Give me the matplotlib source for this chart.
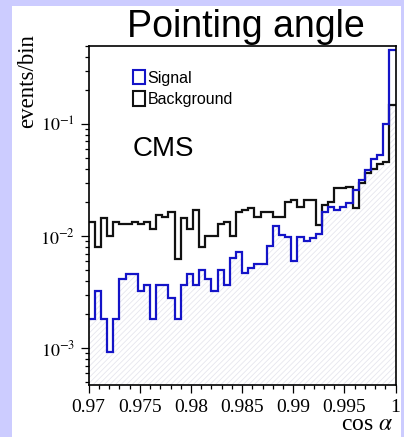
import numpy as np
import matplotlib
matplotlib.use("Agg")
import matplotlib.pyplot as plt
from matplotlib.patches import Rectangle
from matplotlib.ticker import LogLocator, FuncFormatter, MultipleLocator, NullFormatter

plt.rcParams['mathtext.fontset'] = 'stix'
plt.rcParams['hatch.linewidth'] = 0.6

# 50 bins between 0.97 and 1
x_lo, x_hi, n_bins = 0.97, 1.0, 50

signal = [0.00184, 0.00325, 0.00184, 0.00093, 0.00184, 0.00413, 0.00455, 0.00455, 0.00325, 0.00365,
          0.00184, 0.00365, 0.00365, 0.00278, 0.00184, 0.00365, 0.00455, 0.00365, 0.00504, 0.00413,
          0.00325, 0.00504, 0.00365, 0.00637, 0.00720, 0.00465, 0.00515, 0.00562, 0.00562, 0.00815,
          0.0123, 0.0102, 0.0099, 0.00602, 0.00986, 0.00902, 0.0097, 0.0104, 0.0165, 0.0183,
          0.0171, 0.0183, 0.0196, 0.0257, 0.0316, 0.0388, 0.0484, 0.0529, 0.100, 0.458]

background = [0.0134, 0.0080, 0.0144, 0.0100, 0.0134, 0.0128, 0.0128, 0.0134, 0.0128, 0.0134,
              0.0117, 0.0154, 0.0147, 0.0163, 0.0062, 0.0144, 0.0117, 0.0171, 0.0080, 0.0100,
              0.0100, 0.0128, 0.0134, 0.0100, 0.0163, 0.0171, 0.0177, 0.0147, 0.0165, 0.0165,
              0.0147, 0.0147, 0.0202, 0.0210, 0.0183, 0.0210, 0.0210, 0.0125, 0.0189, 0.0202,
              0.0267, 0.0267, 0.0275, 0.0179, 0.0296, 0.0363, 0.0394, 0.0440, 0.0461, 0.148]

x_ticks = [0.97, 0.975, 0.98, 0.985, 0.99, 0.995, 1.0]
x_ticklabels = ['0.97', '0.975', '0.98', '0.985', '0.99', '0.995', '1']

edges = np.linspace(x_lo, x_hi, n_bins + 1)
signal = np.array(signal)
background = np.array(background)

W, H = 404, 437
fig = plt.figure(figsize=(W / 100, H / 100), dpi=100, facecolor='#ccccff')
# white panel
fig.patches.append(Rectangle((12 / W, 0), (401 - 12) / W, 1 - 6 / H,
                             transform=fig.transFigure, facecolor='white',
                             edgecolor='none', zorder=-5))

ax = fig.add_axes([88.7 / W, 1 - 385 / H, (395.6 - 88.7) / W, (385 - 45.7) / H])
ax.set_zorder(2)
ax.set_yscale('log')
ax.set_xlim(x_lo, x_hi)
ax.set_ylim(4.7e-4, 0.5)

# faint hatched area under the lower of the two histograms
ax.stairs(np.minimum(signal, background), edges, baseline=1e-6, fill=True,
          facecolor='white', edgecolor='#e6e6ee', hatch='//////', linewidth=0)
ax.stairs(background, edges, baseline=None, color='#111111', linewidth=1.6)
ax.stairs(signal, edges, baseline=None, color='#1414c8', linewidth=1.6)

for s in ax.spines.values():
    s.set_linewidth(1.2)

ax.xaxis.set_major_locator(plt.FixedLocator(x_ticks))
ax.set_xticklabels(x_ticklabels)
ax.xaxis.set_minor_locator(MultipleLocator(0.001))
ax.yaxis.set_major_locator(LogLocator(base=10, numticks=10))
ax.yaxis.set_minor_locator(LogLocator(base=10, subs=np.arange(2, 10), numticks=20))
ax.yaxis.set_major_formatter(FuncFormatter(lambda v, p: r'$10^{%d}$' % round(np.log10(v))))
ax.yaxis.set_minor_formatter(NullFormatter())
ax.tick_params(which='major', direction='out', length=6, width=0.9, pad=4,
               labelsize=14, top=False, right=False)
ax.tick_params(axis='y', which='major', labelsize=13)
ax.tick_params(which='minor', direction='out', length=3, width=0.9, top=False, right=False)
for lab in ax.get_xticklabels():
    lab.set_fontfamily('Liberation Serif')

# legend
handles = [Rectangle((0, 0), 1, 1, facecolor='white', edgecolor='#1414c8', linewidth=1.5),
           Rectangle((0, 0), 1, 1, facecolor='white', edgecolor='#111111', linewidth=1.5)]
ax.legend(handles, ['Signal', 'Background'], loc='upper left',
          bbox_to_anchor=(133 / W, 1 - 70 / H), bbox_transform=fig.transFigure,
          frameon=False, borderpad=0, borderaxespad=0, handlelength=0.75,
          handleheight=1.0, handletextpad=0.15, labelspacing=0.35,
          prop={'family': 'Liberation Sans', 'size': 11.5})

fig.text(133 / W, 1 - 156 / H, 'CMS', fontsize=20, family='Liberation Sans',
         ha='left', va='baseline')
fig.text(0.609, 1 - 36.7 / H, 'Pointing angle', fontsize=27, family='Liberation Sans',
         ha='center', va='baseline')
fig.text(28 / W, 1 - 81 / H, 'events/bin', fontsize=16.5, family='Liberation Serif',
         rotation=90, ha='center', va='center')
fig.text(393 / W, 1 - 430 / H, r'cos $\alpha$', fontsize=17, family='Liberation Serif',
         ha='right', va='baseline')

fig.savefig('out.png', dpi=100, facecolor=fig.get_facecolor())
